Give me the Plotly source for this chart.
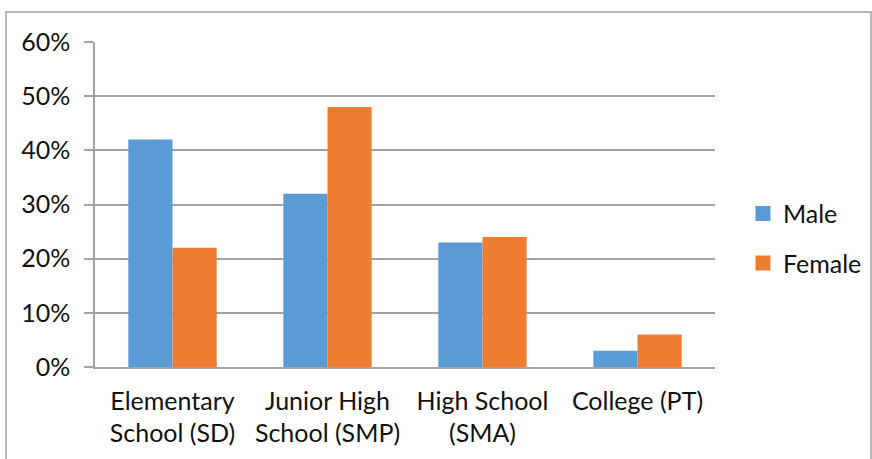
import plotly.graph_objects as go

# Education level by gender
categories = ["Elementary<br>School (SD)", "Junior High<br>School (SMP)", "High School<br>(SMA)", "College (PT)"]
male = [0.42, 0.32, 0.23, 0.03]
female = [0.22, 0.48, 0.24, 0.06]
y_ticks = [0, 0.1, 0.2, 0.3, 0.4, 0.5, 0.6]
y_tick_labels = ["0%", "10%", "20%", "30%", "40%", "50%", "60%"]

BLUE = "#5B9BD5"
ORANGE = "#ED7D31"
GRID = "#A3A3A3"
FONT = "Lato"
FS = 25

fig = go.Figure()
fig.add_trace(go.Bar(x=categories, y=male, name="Male", marker_color=BLUE,
                     marker_line_width=0, showlegend=False))
fig.add_trace(go.Bar(x=categories, y=female, name="Female", marker_color=ORANGE,
                     marker_line_width=0, showlegend=False))

# square legend keys
for name, color, grp in [("Male", BLUE, "m"), ("Female", ORANGE, "f")]:
    fig.add_trace(go.Scatter(x=[None], y=[None], mode="markers", name=name,
                             legendgroup=grp,
                             marker=dict(symbol="square", size=15, color=color)))

fig.update_layout(
    width=872, height=459,
    margin=dict(l=95, r=157, t=42, b=92, autoexpand=False),
    paper_bgcolor="white", plot_bgcolor="white",
    barmode="group", bargap=0.43, bargroupgap=0,
    font=dict(family=FONT, size=FS, color="#111111"),
    legend=dict(xref="container", yref="container", x=0.852, y=0.481,
                xanchor="left", yanchor="middle",
                font=dict(size=FS), tracegroupgap=14, itemwidth=30,
                bgcolor="rgba(0,0,0,0)"),
    xaxis=dict(showgrid=False, showline=True, linecolor=GRID, linewidth=1.5,
               ticks="", tickfont=dict(size=FS), ticklabelstandoff=11,
               fixedrange=True),
    yaxis=dict(range=[0, 0.6], tickvals=y_ticks, ticktext=y_tick_labels,
               showgrid=True, gridcolor=GRID, gridwidth=1.5,
               showline=True, linecolor=GRID, linewidth=1.5,
               ticks="outside", ticklen=9, tickcolor=GRID, tickwidth=1.5,
               ticklabelstandoff=9, tickfont=dict(size=FS),
               zeroline=False, fixedrange=True),
    shapes=[dict(type="rect", xref="paper", yref="paper",
                 x0=(6 - 95) / 620, x1=(871 - 95) / 620,
                 y0=-0.4, y1=(367 - 12) / 325,
                 line=dict(color="#A0A0A0", width=1.5), layer="below")],
)

fig.write_html("out.html")
